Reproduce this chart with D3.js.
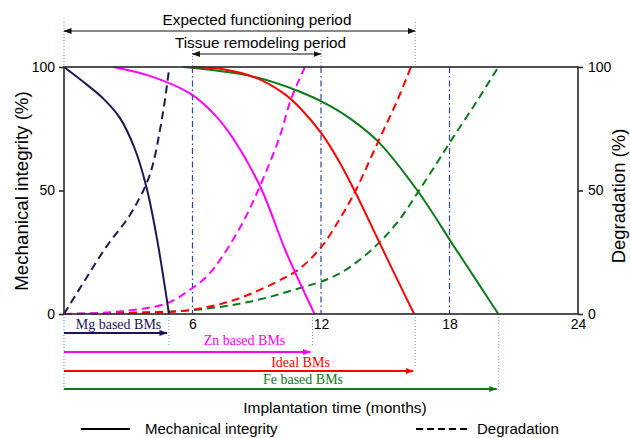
<!DOCTYPE html>
<html>
<head>
<meta charset="utf-8">
<script src="https://cdn.jsdelivr.net/npm/d3@7"></script>
<style>
  html, body { margin: 0; padding: 0; background: #fff; }
  svg { display: block; }
  text { font-family: "Liberation Sans", Arial, sans-serif; fill: #000; }
  .serif { font-family: "Liberation Serif", "Times New Roman", serif; }
</style>
</head>
<body>
<script>
// ---------------- DATA ----------------
const xTickValues = [6, 12, 18, 24];
const yTickValues = [0, 50, 100];

const materials      = ["Mg based BMs", "Zn based BMs", "Ideal BMs", "Fe based BMs"];
const materialColors = ["#1c1652", "#ff00ff", "#ff0000", "#0d7a1a"];
const materialEnd    = [4.9, 11.6, 16.4, 20.3];   // months

const expectedPeriod   = [0, 16.4];
const remodelingPeriod = [6, 12];
const guideMonths      = [6, 12, 18];

// [month, %] pairs
const mgIntegrity   = [[0,100],[0.9,94],[1.8,87.5],[2.6,79.5],[3.3,67],[3.86,51],[4.33,31],[4.71,11],[4.9,0]];
const mgDegradation = [[0,0],[1.0,14],[2.0,27.5],[3.0,39],[3.5,46.5],[3.86,53],[4.15,60.5],[4.45,73],[4.7,86],[4.92,100]];
const znIntegrity   = [[2.3,100],[4.0,96.4],[5.88,89.3],[7.0,81],[7.9,71],[9.15,51.8],[10.4,24.5],[11.7,0]];
const znDegradation = [[0,0],[2.46,0.9],[4.79,4.3],[5.88,9.8],[6.7,15.5],[7.44,23.9],[8.37,37.4],[9.15,51.8],[10.08,72],[10.6,87],[11.25,100]];
const idealIntegrity   = [[5.9,100],[7.5,99],[9.0,95.5],[10.24,89.4],[11.02,83.4],[12.03,73],[12.8,62.4],[13.59,49.5],[14.67,30],[15.53,14.5],[16.35,0]];
const idealDegradation = [[0,0],[2.46,0.3],[5.88,1.6],[8.06,6],[10.24,14.4],[11.02,18.5],[12.03,27.3],[12.89,38.7],[13.59,49.5],[14.67,69.8],[15.53,85.8],[16.2,100]];
const feIntegrity   = [[5.57,100],[8.68,96.4],[11.02,90],[12.42,84.3],[13.35,79.2],[14.67,69.8],[16.54,49.5],[18.17,27.9],[19.27,13.4],[20.28,0]];
const feDegradation = [[0,0],[5.88,1.5],[8.68,5],[11.02,10.5],[12.42,14.5],[13.35,19],[14.67,28.5],[15.69,38.5],[16.54,49.5],[17.4,61],[18.17,71.5],[19.27,86],[20.28,100]];

const integritySeries   = [mgIntegrity, znIntegrity, idealIntegrity, feIntegrity];
const degradationSeries = [mgDegradation, znDegradation, idealDegradation, feDegradation];

// ---------------- LAYOUT ----------------
const W = 630, H = 438;
const plot = { left: 64, right: 578, top: 67, bottom: 314 };
const arrowY  = [333, 352, 371, 389];
const labelX  = [118.5, 244.5, 300.5, 303];
const labelY  = [329, 345, 367, 384];
const dotEndY = [346, 347, 366, 390];

const dotColor = "#6f8fdf";
const dashDotColor = "#2a44a8";

const svg = d3.select("body").append("svg").attr("width", W).attr("height", H);

const x = d3.scaleLinear().domain([0, 24]).range([plot.left, plot.right]);
const y = d3.scaleLinear().domain([0, 100]).range([plot.bottom, plot.top]);

// markers
const defs = svg.append("defs");
function marker(id, color) {
  defs.append("marker")
    .attr("id", id).attr("markerUnits", "userSpaceOnUse")
    .attr("markerWidth", 8).attr("markerHeight", 6)
    .attr("refX", 7.5).attr("refY", 3)
    .attr("orient", "auto-start-reverse")
    .append("path").attr("d", "M0,0 L8,3 L0,6 Z").attr("fill", color);
}
marker("arr-black", "#111");
materialColors.forEach((c, i) => marker("arr-" + i, c));

// ---------- guide lines ----------
const g = svg.append("g");
[[expectedPeriod[0], 22], [expectedPeriod[1], 22], [remodelingPeriod[0], 50], [remodelingPeriod[1], 50]].forEach(([m, y0]) => {
  g.append("line").attr("x1", x(m)).attr("x2", x(m)).attr("y1", y0).attr("y2", plot.top)
    .attr("stroke", dotColor).attr("stroke-width", 1).attr("stroke-dasharray", "1,2");
});
g.append("line").attr("x1", x(0)).attr("x2", x(0)).attr("y1", plot.bottom).attr("y2", 391)
  .attr("stroke", dotColor).attr("stroke-width", 1).attr("stroke-dasharray", "1,2");
materialEnd.forEach((m, i) => {
  g.append("line").attr("x1", x(m)).attr("x2", x(m)).attr("y1", plot.bottom).attr("y2", dotEndY[i])
    .attr("stroke", dotColor).attr("stroke-width", 1).attr("stroke-dasharray", "1,2");
});
guideMonths.forEach(m => {
  g.append("line").attr("x1", x(m)).attr("x2", x(m)).attr("y1", plot.top).attr("y2", plot.bottom)
    .attr("stroke", dashDotColor).attr("stroke-width", 1.2).attr("stroke-dasharray", "6,3,1.5,3");
});

// ---------- curves ----------
const line = d3.line().x(d => x(d[0])).y(d => y(d[1])).curve(d3.curveCatmullRom.alpha(0.5));
const cg = svg.append("g").attr("fill", "none");
[3, 2, 1, 0].forEach(i => {
  cg.append("path").attr("d", line(degradationSeries[i]))
    .attr("stroke", materialColors[i]).attr("stroke-width", 2).attr("stroke-dasharray", "8,5");
  cg.append("path").attr("d", line(integritySeries[i]))
    .attr("stroke", materialColors[i]).attr("stroke-width", 2);
});

// ---------- frame & axes ----------
svg.append("rect").attr("x", plot.left).attr("y", plot.top)
  .attr("width", plot.right - plot.left).attr("height", plot.bottom - plot.top)
  .attr("fill", "none").attr("stroke", "#333").attr("stroke-width", 1.7);

const yl = svg.append("g").attr("transform", `translate(${plot.left},0)`)
  .call(d3.axisLeft(y).tickValues(yTickValues).tickSize(5).tickPadding(4));
const yr = svg.append("g").attr("transform", `translate(${plot.right},0)`)
  .call(d3.axisRight(y).tickValues(yTickValues).tickSize(5).tickPadding(5));
const xb = svg.append("g").attr("transform", `translate(0,${plot.bottom})`)
  .call(d3.axisBottom(x).tickValues(xTickValues).tickSize(0).tickPadding(5));
[yl, yr, xb].forEach(a => {
  a.select(".domain").remove();
  a.selectAll("line").attr("stroke", "#333").attr("stroke-width", 1.7);
  a.selectAll("text").attr("font-size", 14).attr("font-family", "Liberation Sans, Arial, sans-serif").attr("fill", "#000");
});

// axis titles
svg.append("text").attr("transform", "translate(28,191) rotate(-90)")
  .attr("text-anchor", "middle").attr("font-size", 18.7).text("Mechanical integrity (%)");
svg.append("text").attr("transform", "translate(625,196) rotate(-90)")
  .attr("text-anchor", "middle").attr("font-size", 18.5).text("Degradation (%)");
svg.append("text").attr("x", 335).attr("y", 413)
  .attr("text-anchor", "middle").attr("font-size", 15.5).text("Implantation time (months)");

// ---------- top period arrows ----------
svg.append("text").attr("x", 257).attr("y", 25).attr("text-anchor", "middle")
  .attr("font-size", 15.3).text("Expected functioning period");
svg.append("line").attr("x1", x(expectedPeriod[0])).attr("x2", x(expectedPeriod[1]))
  .attr("y1", 31).attr("y2", 31).attr("stroke", "#111").attr("stroke-width", 1.2)
  .attr("marker-start", "url(#arr-black)").attr("marker-end", "url(#arr-black)");
svg.append("text").attr("x", 260.5).attr("y", 48).attr("text-anchor", "middle")
  .attr("font-size", 15.3).text("Tissue remodeling period");
svg.append("line").attr("x1", x(remodelingPeriod[0])).attr("x2", x(remodelingPeriod[1]))
  .attr("y1", 54).attr("y2", 54).attr("stroke", "#111").attr("stroke-width", 1.2)
  .attr("marker-start", "url(#arr-black)").attr("marker-end", "url(#arr-black)");

// ---------- material arrows ----------
materials.forEach((name, i) => {
  svg.append("line").attr("x1", x(0)).attr("x2", x(materialEnd[i]) - 2)
    .attr("y1", arrowY[i]).attr("y2", arrowY[i])
    .attr("stroke", materialColors[i]).attr("stroke-width", 2)
    .attr("marker-end", `url(#arr-${i})`);
  svg.append("text").attr("class", "serif").attr("x", labelX[i]).attr("y", labelY[i])
    .attr("text-anchor", "middle").attr("font-size", 14)
    .style("fill", materialColors[i]).text(name);
});

// ---------- legend ----------
svg.append("line").attr("x1", 81).attr("x2", 130).attr("y1", 429).attr("y2", 429)
  .attr("stroke", "#000").attr("stroke-width", 2);
svg.append("text").attr("x", 145).attr("y", 434).attr("font-size", 15).text("Mechanical integrity");
svg.append("line").attr("x1", 416).attr("x2", 468).attr("y1", 429).attr("y2", 429)
  .attr("stroke", "#000").attr("stroke-width", 2).attr("stroke-dasharray", "7,4");
svg.append("text").attr("x", 477).attr("y", 434).attr("font-size", 15).text("Degradation");
</script>
</body>
</html>
